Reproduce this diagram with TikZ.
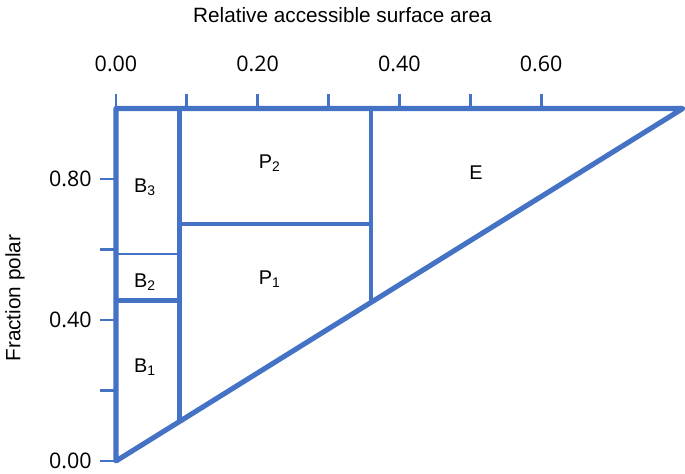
\documentclass[tikz,border=0pt]{standalone}
\usepackage{fontspec}
\setmainfont{Liberation Sans}
\newfontfamily\ticksfont{Open Sans}
\definecolor{zoneblue}{RGB}{68,114,196}

\begin{document}
\begin{tikzpicture}[
    x=14.17cm, y=7.05cm,
    border/.style={draw=zoneblue, line width=2.9pt, line join=round, line cap=round},
    split/.style={draw=zoneblue, line width=2.6pt},
    thinsplit/.style={draw=zoneblue, line width=1.2pt},
    tick/.style={draw=zoneblue, line width=1.6pt},
    zone/.style={font=\fontsize{11.3}{13}\selectfont},
    axistitle/.style={font=\fontsize{11.8}{14}\selectfont},
    ticklabel/.style={font=\ticksfont\fontsize{12.2}{14}\selectfont, inner sep=0pt}
]
\useasboundingbox (-0.1637,-0.034) rectangle (0.8031,1.3078);

% Corners
\coordinate (o) at (0,0);
\coordinate (tl) at (0,1);
\coordinate (tr) at (0.8,1);

% Ticks and tick labels
\foreach \t in {0,0.1,...,0.61}
    \draw[tick] (\t,1) -- ++(0,0.0425);
\foreach \t/\lab in {0/0.00,0.2/0.20,0.4/0.40,0.6/0.60}
    \node[ticklabel] (x\lab) at (\t,1.126) {\lab};
\foreach \t in {0,0.2,...,0.81}
    \draw[tick] (0,\t) -- ++(-0.0226,0);
\foreach \t/\lab in {0/0.00,0.4/0.40,0.8/0.80}
    \node[ticklabel, anchor=east] (y\lab) at (-0.034,\t) {\lab};

% Axis titles
\node[axistitle] (xtitle) at (0.3197,1.265) {Relative accessible surface area};
\node[axistitle, rotate=90] (ytitle) at (-0.1426,0.462) {Fraction polar};

% Zone boundaries
\coordinate (b1) at (0.09,0.1125);
\coordinate (b2) at (0.09,1);
\coordinate (p1) at (0.36,0.45);
\coordinate (p2) at (0.36,1);
\draw[split] (b1) -- (b2);
\draw[split] (p1) -- (p2);
\draw[split] (0.09,0.672) -- (0.36,0.672);
\draw[split] (0,0.455) -- (0.09,0.455);
\draw[thinsplit] (0,0.587) -- (0.09,0.587);
\draw[border] (o) -- (tl) -- (tr) -- cycle;

% Zone labels
\node[zone] (B3) at (0.041,0.777) {B\textsubscript{3}};
\node[zone] (B2) at (0.041,0.508) {B\textsubscript{2}};
\node[zone] (B1) at (0.041,0.267) {B\textsubscript{1}};
\node[zone] (P2) at (0.217,0.845) {P\textsubscript{2}};
\node[zone] (P1) at (0.217,0.516) {P\textsubscript{1}};
\node[zone] (E) at (0.508,0.817) {E};

\end{tikzpicture}
\end{document}
